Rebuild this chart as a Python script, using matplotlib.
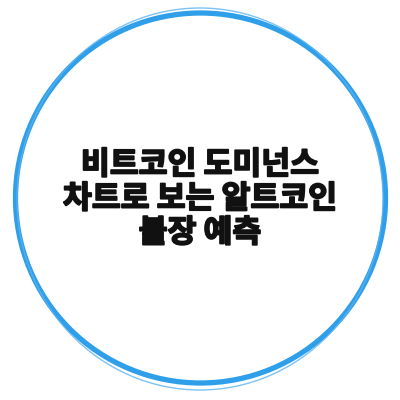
import matplotlib
matplotlib.use("Agg")
import matplotlib.pyplot as plt
import matplotlib.patheffects as pe
from matplotlib.patches import Circle, Ellipse

lines = ["비트코인 도미넌스", "차트로 보는 알트코인", "불장 예측"]
line_y = [165, 199, 233]

fig = plt.figure(figsize=(4, 4), dpi=100)
ax = fig.add_axes([0, 0, 1, 1])
ax.set_xlim(0, 400)
ax.set_ylim(400, 0)
ax.axis("off")

ax.add_patch(Circle((200.5, 198), 185, fill=False, edgecolor="#2f9fea", linewidth=3.8))
ax.add_patch(Ellipse((200, 199), 2 * 183, 2 * 191, fill=False, edgecolor="#5cb3f0",
                     linewidth=1.0, alpha=0.8))

for t, y in zip(lines, line_y):
    ax.text(200, y, t, ha="center", va="center", fontsize=22.6, fontweight=900,
            family=["Noto Sans CJK KR", "DejaVu Sans"], color="#111111",
            path_effects=[pe.withStroke(linewidth=1.3, foreground="#111111")])

fig.savefig("out.png", dpi=100, facecolor="white")
